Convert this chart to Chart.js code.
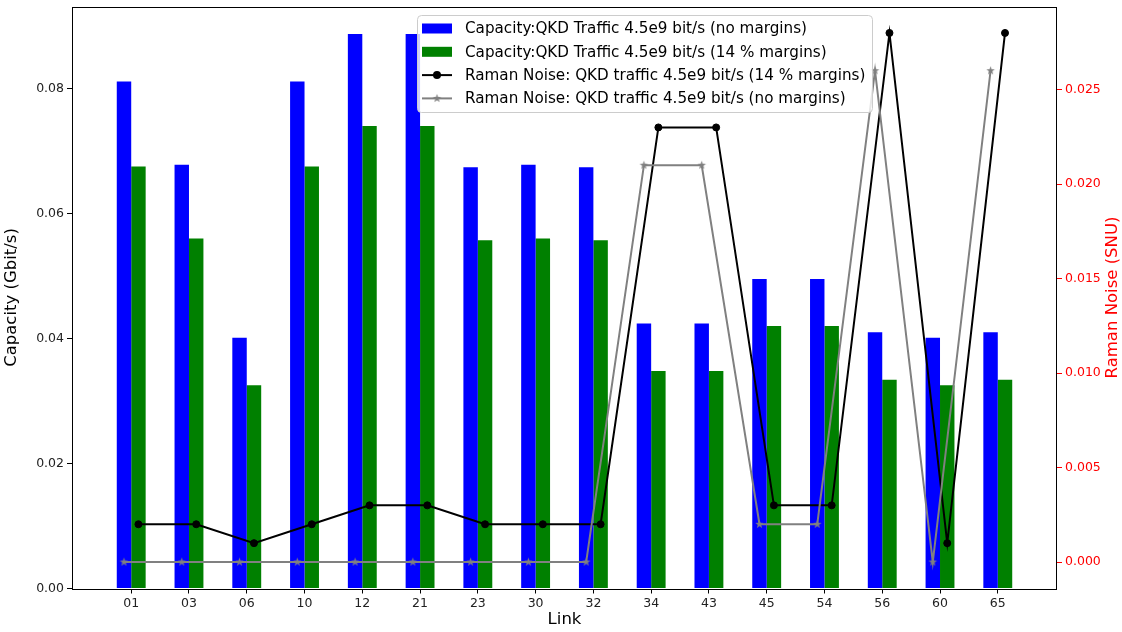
<!DOCTYPE html>
<html>
<head>
<meta charset="utf-8">
<title>Capacity and Raman noise per link</title>
<script src="https://cdn.jsdelivr.net/npm/chart.js@4/dist/chart.umd.min.js"></script>
<style>
  body { margin: 0; background: #fff; }
  #wrap { width: 1122px; height: 632px; }
</style>
</head>
<body>
<div id="wrap"><canvas id="chart" width="1122" height="632"></canvas></div>
<script>
const links = ['01', '03', '06', '10', '12', '21', '23', '30', '32', '34', '43', '45', '54', '56', '60', '65'];
const capNoMargin = [0.0811, 0.0678, 0.0401, 0.0811, 0.0887, 0.0887, 0.0674, 0.0678, 0.0674, 0.0424, 0.0424, 0.0495, 0.0495, 0.0410, 0.0401, 0.0410];
const capMargin = [0.0675, 0.0560, 0.0325, 0.0675, 0.0740, 0.0740, 0.0557, 0.0560, 0.0557, 0.0348, 0.0348, 0.0420, 0.0420, 0.0334, 0.0325, 0.0334];
const ramanMargin = [0.002, 0.002, 0.001, 0.002, 0.003, 0.003, 0.002, 0.002, 0.002, 0.023, 0.023, 0.003, 0.003, 0.028, 0.001, 0.028];
const ramanNoMargin = [0, 0, 0, 0, 0, 0, 0, 0, 0, 0.021, 0.021, 0.002, 0.002, 0.026, 0, 0.026];

const capTicks = [0, 0.02, 0.04, 0.06, 0.08];
const ramanTicks = [0, 0.005, 0.010, 0.015, 0.020, 0.025];

const FONT = 'DejaVu Sans';
const barOffset = 0.125; // half a bar width, so the lines sit on the bar centres

function makeStar(r, color) {
    const c = document.createElement('canvas');
    c.width = c.height = Math.ceil(2 * r + 2);
    const g = c.getContext('2d');
    const cx = c.width / 2, cy = c.height / 2;
    g.beginPath();
    for (let i = 0; i < 10; i++) {
        const rad = i % 2 === 0 ? r : r * 0.4;
        const a = -Math.PI / 2 + i * Math.PI / 5;
        g.lineTo(cx + rad * Math.cos(a), cy + rad * Math.sin(a));
    }
    g.closePath();
    g.fillStyle = color;
    g.fill();
    return c;
}
const star = makeStar(4.5, '#808080');

function fixBox(size, key) {
    return s => {
        s[key] = size;
        s.paddingTop = s.paddingBottom = s.paddingLeft = s.paddingRight = 0;
    };
}

// frame round the plot area (matplotlib spines) + right axis title read bottom-to-top
const framePlugin = {
    id: 'frame',
    afterDatasetsDraw(chart) {
        const {ctx, chartArea: a} = chart;
        ctx.save();
        ctx.strokeStyle = '#000';
        ctx.lineWidth = 1;
        ctx.strokeRect(Math.round(a.left) + 0.5, Math.round(a.top) + 0.5,
            Math.round(a.right - a.left) - 1, Math.round(a.bottom - a.top));
        ctx.translate(1113, (a.top + a.bottom) / 2);
        ctx.rotate(-Math.PI / 2);
        ctx.font = `16.5px "${FONT}"`;
        ctx.fillStyle = '#ff0000';
        ctx.textAlign = 'center';
        ctx.textBaseline = 'middle';
        ctx.fillText('Raman Noise (SNU)', 0, 0);
        ctx.restore();
    }
};

// legend box drawn inside the plot, top centre
const legendPlugin = {
    id: 'boxLegend',
    afterDraw(chart) {
        const ctx = chart.ctx;
        const x0 = 417, y0 = 15, w = 455, h = 97;
        ctx.save();
        ctx.beginPath();
        ctx.roundRect(x0 + 0.5, y0 + 0.5, w, h, 4);
        ctx.fillStyle = 'rgba(255,255,255,0.8)';
        ctx.fill();
        ctx.strokeStyle = '#cccccc';
        ctx.lineWidth = 1;
        ctx.stroke();
        ctx.font = `15.2px "${FONT}"`;
        ctx.textBaseline = 'middle';
        chart.data.datasets.forEach((ds, i) => {
            const y = 28.5 + i * 23.3;
            if (ds.type === 'line') {
                ctx.strokeStyle = ds.borderColor;
                ctx.lineWidth = 2;
                ctx.beginPath();
                ctx.moveTo(422, y);
                ctx.lineTo(452, y);
                ctx.stroke();
                if (ds.pointStyle === 'circle') {
                    ctx.beginPath();
                    ctx.arc(437, y, 4, 0, Math.PI * 2);
                    ctx.fillStyle = ds.pointBackgroundColor;
                    ctx.fill();
                } else {
                    ctx.drawImage(ds.pointStyle, 437 - ds.pointStyle.width / 2, y - ds.pointStyle.height / 2);
                }
            } else {
                ctx.fillStyle = ds.backgroundColor;
                ctx.fillRect(422, y - 5, 30, 10);
            }
            ctx.fillStyle = '#000';
            ctx.fillText(ds.label, 465, y + 1);
        });
        ctx.restore();
    }
};

const ctx = document.getElementById('chart').getContext('2d');
const chart = new Chart(ctx, {
    type: 'bar',
    data: {
        datasets: [{
            label: 'Capacity:QKD Traffic 4.5e9 bit/s (no margins)',
            data: capNoMargin.map((v, i) => ({x: i, y: v})),
            backgroundColor: '#0000ff',
            yAxisID: 'y',
            order: 3
        }, {
            label: 'Capacity:QKD Traffic 4.5e9 bit/s (14 % margins)',
            data: capMargin.map((v, i) => ({x: i, y: v})),
            backgroundColor: '#008000',
            yAxisID: 'y',
            order: 3
        }, {
            type: 'line',
            label: 'Raman Noise: QKD traffic 4.5e9 bit/s (14 % margins)',
            data: ramanMargin.map((v, i) => ({x: i + barOffset, y: v})),
            borderColor: '#000000',
            backgroundColor: '#000000',
            pointBackgroundColor: '#000000',
            pointBorderColor: '#000000',
            pointStyle: 'circle',
            pointRadius: 3.5,
            pointBorderWidth: 1,
            borderWidth: 2,
            tension: 0,
            yAxisID: 'y1',
            order: 2
        }, {
            type: 'line',
            label: 'Raman Noise: QKD traffic 4.5e9 bit/s (no margins)',
            data: ramanNoMargin.map((v, i) => ({x: i - barOffset, y: v})),
            borderColor: '#808080',
            backgroundColor: '#808080',
            pointStyle: star,
            pointRadius: 4.5,
            borderWidth: 2,
            tension: 0,
            yAxisID: 'y1',
            order: 1
        }]
    },
    options: {
        responsive: false,
        animation: false,
        layout: {padding: {top: 6, left: 0, right: 0, bottom: 0}},
        categoryPercentage: 0.5,
        barPercentage: 1.0,
        plugins: {
            legend: {display: false},
            tooltip: {enabled: false}
        },
        scales: {
            x: {
                type: 'linear',
                offset: false,
                min: -1.025,
                max: links.length + 0.025,
                afterBuildTicks: s => { s.ticks = links.map((_, i) => ({value: i})); },
                afterFit: fixBox(43.5, 'height'),
                ticks: {
                    autoSkip: false,
                    maxRotation: 0,
                    padding: 3,
                    color: '#222',
                    font: {family: FONT, size: 12.5},
                    callback: v => links[v]
                },
                grid: {drawOnChartArea: false, offset: false, tickLength: 5, color: '#000'},
                border: {display: false},
                title: {
                    display: true,
                    text: 'Link',
                    color: '#000',
                    font: {family: FONT, size: 16.5},
                    padding: {top: 0, bottom: 2}
                }
            },
            y: {
                position: 'left',
                min: 0,
                max: 0.0931,
                afterBuildTicks: s => { s.ticks = capTicks.map(v => ({value: v})); },
                afterFit: fixBox(72, 'width'),
                ticks: {
                    padding: 3,
                    color: '#222',
                    font: {family: FONT, size: 12.5},
                    callback: v => v.toFixed(2)
                },
                grid: {drawOnChartArea: false, tickLength: 5, color: '#000'},
                border: {display: false},
                title: {
                    display: true,
                    text: 'Capacity (Gbit/s)',
                    color: '#000',
                    font: {family: FONT, size: 16.5},
                    padding: {top: 2, bottom: 0}
                }
            },
            y1: {
                position: 'right',
                min: -0.0014,
                max: 0.0294,
                afterBuildTicks: s => { s.ticks = ramanTicks.map(v => ({value: v})); },
                afterFit: fixBox(65, 'width'),
                ticks: {
                    padding: 3,
                    color: '#ff0000',
                    font: {family: FONT, size: 12.5},
                    callback: v => v.toFixed(3)
                },
                grid: {drawOnChartArea: false, tickLength: 5, color: '#ff0000'},
                border: {display: false}
            }
        }
    },
    plugins: [framePlugin, legendPlugin]
});
</script>
</body>
</html>
